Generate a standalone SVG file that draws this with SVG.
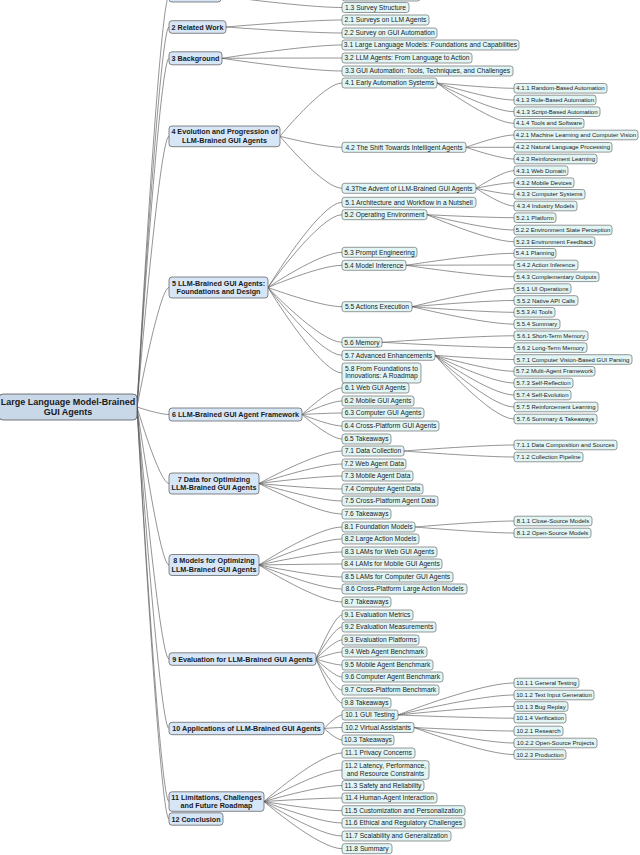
<svg xmlns="http://www.w3.org/2000/svg" width="640" height="855" viewBox="0 0 640 855">
<style>
.bg{fill:#ffffff}
.c path{fill:none;stroke:#5a5a5a;stroke-width:0.65}
.r{fill:#c9d8e8;stroke:#555;stroke-width:0.8}
.b1{fill:#d7e6f6;stroke:#555;stroke-width:0.7}
.b2{fill:#e2f5f5;stroke:#555;stroke-width:0.6}
.t0{font-family:"Liberation Sans",Arial,sans-serif;font-weight:bold;font-size:9px;fill:#1a1a1a;text-anchor:middle}
.t1{font-family:"Liberation Sans",Arial,sans-serif;font-weight:bold;font-size:7.2px;fill:#1a1a1a;text-anchor:middle}
.t2{font-family:"Liberation Sans",Arial,sans-serif;font-size:6.7px;fill:#1a1a1a;text-anchor:middle}
.t3{font-family:"Liberation Sans",Arial,sans-serif;font-size:6px;fill:#1a1a1a;text-anchor:middle}
</style>
<rect class="bg" x="0" y="0" width="640" height="855"/>
<g id="connectors" class="c">
<path d="M137 407 C137 407 159.4 -4 169 -4"/>
<path d="M137 407 C137 407 159.4 27 169 27"/>
<path d="M137 407 C137 407 159.4 58.3 169 58.3"/>
<path d="M137 407 C137 407 159.4 136.3 169 136.3"/>
<path d="M137 407 C137 407 159.4 287.5 169 287.5"/>
<path d="M137 407 C137 407 159.4 414.5 169 414.5"/>
<path d="M137 407 C137 407 159.4 483.5 169 483.5"/>
<path d="M137 407 C137 407 159.4 565 169 565"/>
<path d="M137 407 C137 407 159.4 659 169 659"/>
<path d="M137 407 C137 407 159.4 728.5 169 728.5"/>
<path d="M137 407 C137 407 159.4 801.5 169 801.5"/>
<path d="M137 407 C137 407 159.4 819 169 819"/>
<path d="M221 -4 C221 -4 305.7 -4 342 -4"/>
<path d="M221 -4 C221 -4 305.7 7.5 342 7.5"/>
<path d="M226 27 C226 27 307.2 20 342 20"/>
<path d="M226 27 C226 27 307.2 33 342 33"/>
<path d="M222 58.3 C222 58.3 306 45 342 45"/>
<path d="M222 58.3 C222 58.3 306 58 342 58"/>
<path d="M222 58.3 C222 58.3 306 71 342 71"/>
<path d="M280 136.3 C280 136.3 323.4 83 342 83"/>
<path d="M280 136.3 C280 136.3 323.4 147.3 342 147.3"/>
<path d="M280 136.3 C280 136.3 323.4 188.3 342 188.3"/>
<path d="M268 287.5 C268 287.5 319.8 202.3 342 202.3"/>
<path d="M268 287.5 C268 287.5 319.8 214.7 342 214.7"/>
<path d="M268 287.5 C268 287.5 319.8 252.3 342 252.3"/>
<path d="M268 287.5 C268 287.5 319.8 265.3 342 265.3"/>
<path d="M268 287.5 C268 287.5 319.8 306.7 342 306.7"/>
<path d="M268 287.5 C268 287.5 319.8 342.3 342 342.3"/>
<path d="M268 287.5 C268 287.5 319.8 355.3 342 355.3"/>
<path d="M268 287.5 C268 287.5 319.8 373 342 373"/>
<path d="M302 414.5 C302 414.5 330 388 342 388"/>
<path d="M302 414.5 C302 414.5 330 401 342 401"/>
<path d="M302 414.5 C302 414.5 330 413 342 413"/>
<path d="M302 414.5 C302 414.5 330 426 342 426"/>
<path d="M302 414.5 C302 414.5 330 439 342 439"/>
<path d="M259 483.5 C259 483.5 317.1 451 342 451"/>
<path d="M259 483.5 C259 483.5 317.1 464 342 464"/>
<path d="M259 483.5 C259 483.5 317.1 476 342 476"/>
<path d="M259 483.5 C259 483.5 317.1 489 342 489"/>
<path d="M259 483.5 C259 483.5 317.1 501 342 501"/>
<path d="M259 483.5 C259 483.5 317.1 514 342 514"/>
<path d="M259 565 C259 565 317.1 527 342 527"/>
<path d="M259 565 C259 565 317.1 539 342 539"/>
<path d="M259 565 C259 565 317.1 552 342 552"/>
<path d="M259 565 C259 565 317.1 564 342 564"/>
<path d="M259 565 C259 565 317.1 577 342 577"/>
<path d="M259 565 C259 565 317.1 589 342 589"/>
<path d="M259 565 C259 565 317.1 602 342 602"/>
<path d="M316 659 C316 659 334.2 615 342 615"/>
<path d="M316 659 C316 659 334.2 627 342 627"/>
<path d="M316 659 C316 659 334.2 640 342 640"/>
<path d="M316 659 C316 659 334.2 652 342 652"/>
<path d="M316 659 C316 659 334.2 665 342 665"/>
<path d="M316 659 C316 659 334.2 677 342 677"/>
<path d="M316 659 C316 659 334.2 690 342 690"/>
<path d="M316 659 C316 659 334.2 703 342 703"/>
<path d="M324 728.5 C324 728.5 336.6 715 342 715"/>
<path d="M324 728.5 C324 728.5 336.6 727.5 342 727.5"/>
<path d="M324 728.5 C324 728.5 336.6 740 342 740"/>
<path d="M264 801.5 C264 801.5 318.6 753 342 753"/>
<path d="M264 801.5 C264 801.5 318.6 770 342 770"/>
<path d="M264 801.5 C264 801.5 318.6 785.5 342 785.5"/>
<path d="M264 801.5 C264 801.5 318.6 798 342 798"/>
<path d="M264 801.5 C264 801.5 318.6 810.7 342 810.7"/>
<path d="M264 801.5 C264 801.5 318.6 823 342 823"/>
<path d="M264 801.5 C264 801.5 318.6 836 342 836"/>
<path d="M264 801.5 C264 801.5 318.6 848.7 342 848.7"/>
<path d="M437 83 C437 83 490.9 88.3 514 88.3"/>
<path d="M437 83 C437 83 490.9 100 514 100"/>
<path d="M437 83 C437 83 490.9 111.7 514 111.7"/>
<path d="M437 83 C437 83 490.9 123.3 514 123.3"/>
<path d="M466 147.3 C466 147.3 499.6 135 514 135"/>
<path d="M466 147.3 C466 147.3 499.6 147.3 514 147.3"/>
<path d="M466 147.3 C466 147.3 499.6 159 514 159"/>
<path d="M476 188.3 C476 188.3 502.6 170.7 514 170.7"/>
<path d="M476 188.3 C476 188.3 502.6 182.7 514 182.7"/>
<path d="M476 188.3 C476 188.3 502.6 194.3 514 194.3"/>
<path d="M476 188.3 C476 188.3 502.6 206 514 206"/>
<path d="M427 214.7 C427 214.7 487.9 217.7 514 217.7"/>
<path d="M427 214.7 C427 214.7 487.9 230 514 230"/>
<path d="M427 214.7 C427 214.7 487.9 241.7 514 241.7"/>
<path d="M406 265.3 C406 265.3 481.6 253.3 514 253.3"/>
<path d="M406 265.3 C406 265.3 481.6 265 514 265"/>
<path d="M406 265.3 C406 265.3 481.6 276.8 514 276.8"/>
<path d="M412 306.7 C412 306.7 483.4 288.6 514 288.6"/>
<path d="M412 306.7 C412 306.7 483.4 300.5 514 300.5"/>
<path d="M412 306.7 C412 306.7 483.4 312.3 514 312.3"/>
<path d="M412 306.7 C412 306.7 483.4 324.1 514 324.1"/>
<path d="M382 342.3 C382 342.3 474.4 335.8 514 335.8"/>
<path d="M382 342.3 C382 342.3 474.4 347.6 514 347.6"/>
<path d="M435 355.3 C435 355.3 490.3 359.5 514 359.5"/>
<path d="M435 355.3 C435 355.3 490.3 371.3 514 371.3"/>
<path d="M435 355.3 C435 355.3 490.3 383 514 383"/>
<path d="M435 355.3 C435 355.3 490.3 395 514 395"/>
<path d="M435 355.3 C435 355.3 490.3 407 514 407"/>
<path d="M435 355.3 C435 355.3 490.3 419 514 419"/>
<path d="M404 451 C404 451 481 445 514 445"/>
<path d="M404 451 C404 451 481 457 514 457"/>
<path d="M415 527 C415 527 484.3 521 514 521"/>
<path d="M415 527 C415 527 484.3 533 514 533"/>
<path d="M398 715 C398 715 479.2 683 514 683"/>
<path d="M398 715 C398 715 479.2 695 514 695"/>
<path d="M398 715 C398 715 479.2 706.5 514 706.5"/>
<path d="M398 715 C398 715 479.2 718.2 514 718.2"/>
<path d="M414 727.5 C414 727.5 484 731 514 731"/>
<path d="M414 727.5 C414 727.5 484 743 514 743"/>
<path d="M414 727.5 C414 727.5 484 754.5 514 754.5"/>
</g>
<g id="root"><rect class="r" x="-1" y="394" width="138" height="26" rx="4"/><text class="t0" x="68" y="405">Large Language Model-Brained</text><text class="t0" x="68" y="415">GUI Agents</text></g>
<g id="n1"><rect class="b1" x="169" y="-10" width="52" height="12" rx="3"/></g>
<g id="n2"><rect class="b1" x="169" y="20.7" width="57" height="12.6" rx="3"/><text class="t1" x="197.5" y="29.6">2 Related Work</text></g>
<g id="n3"><rect class="b1" x="169" y="51.8" width="53" height="13" rx="3"/><text class="t1" x="195.5" y="60.9">3 Background</text></g>
<g id="n4"><rect class="b1" x="169" y="126" width="111" height="20.7" rx="3"/><text class="t1" x="224.5" y="134.4">4 Evolution and Progression of</text><text class="t1" x="224.5" y="142.7">LLM-Brained GUI Agents</text></g>
<g id="n5"><rect class="b1" x="169" y="277" width="99" height="21" rx="3"/><text class="t1" x="218.5" y="285.6">5 LLM-Brained GUI Agents:</text><text class="t1" x="218.5" y="294">Foundations and Design</text></g>
<g id="n6"><rect class="b1" x="169" y="408" width="133" height="13" rx="3"/><text class="t1" x="235.5" y="417.1">6 LLM-Brained GUI Agent Framework</text></g>
<g id="n7"><rect class="b1" x="169" y="473" width="90" height="21" rx="3"/><text class="t1" x="214" y="481.6">7 Data for Optimizing</text><text class="t1" x="214" y="490">LLM-Brained GUI Agents</text></g>
<g id="n8"><rect class="b1" x="169" y="554.5" width="90" height="21" rx="3"/><text class="t1" x="214" y="563.1">8 Models for Optimizing</text><text class="t1" x="214" y="571.5">LLM-Brained GUI Agents</text></g>
<g id="n9"><rect class="b1" x="169" y="652.8" width="147" height="12.5" rx="3"/><text class="t1" x="242.5" y="661.6">9 Evaluation for LLM-Brained GUI Agents</text></g>
<g id="n10"><rect class="b1" x="169" y="722.3" width="155" height="12.4" rx="3"/><text class="t1" x="246.5" y="731.1">10 Applications of LLM-Brained GUI Agents</text></g>
<g id="n11"><rect class="b1" x="169" y="791.8" width="95" height="19.5" rx="3"/><text class="t1" x="216.5" y="799.6">11 Limitations, Challenges</text><text class="t1" x="216.5" y="808">and Future Roadmap</text></g>
<g id="n12"><rect class="b1" x="169" y="812.8" width="54" height="12.4" rx="3"/><text class="t1" x="196" y="821.6">12 Conclusion</text></g>
<g id="n1-2"><rect class="b2" x="342" y="-9" width="78" height="10" rx="2.5"/></g>
<g id="n1-3"><rect class="b2" x="342" y="2.5" width="67" height="10" rx="2.5"/><text class="t2" x="375.5" y="9.9">1.3 Survey Structure</text></g>
<g id="n2-1"><rect class="b2" x="342" y="15" width="87" height="10" rx="2.5"/><text class="t2" x="385.5" y="22.4">2.1 Surveys on LLM Agents</text></g>
<g id="n2-2"><rect class="b2" x="342" y="28" width="95" height="10" rx="2.5"/><text class="t2" x="389.5" y="35.4">2.2 Survey on GUI Automation</text></g>
<g id="n3-1"><rect class="b2" x="342" y="40" width="177" height="10" rx="2.5"/><text class="t2" x="430.5" y="47.4">3.1 Large Language Models: Foundations and Capabilities</text></g>
<g id="n3-2"><rect class="b2" x="342" y="53" width="130" height="10" rx="2.5"/><text class="t2" x="407" y="60.4">3.2 LLM Agents: From Language to Action</text></g>
<g id="n3-3"><rect class="b2" x="342" y="66" width="171" height="10" rx="2.5"/><text class="t2" x="427.5" y="73.4">3.3 GUI Automation: Tools, Techniques, and Challenges</text></g>
<g id="n4-1"><rect class="b2" x="342" y="78" width="95" height="10" rx="2.5"/><text class="t2" x="389.5" y="85.4">4.1 Early Automation Systems</text></g>
<g id="n4-2"><rect class="b2" x="342" y="142.3" width="124" height="10" rx="2.5"/><text class="t2" x="404" y="149.7">4.2 The Shift Towards Intelligent Agents</text></g>
<g id="n4-3"><rect class="b2" x="342" y="183.3" width="134" height="10" rx="2.5"/><text class="t2" x="409" y="190.7">4.3The Advent of LLM-Brained GUI Agents</text></g>
<g id="n5-1"><rect class="b2" x="342" y="197.3" width="134" height="10" rx="2.5"/><text class="t2" x="409" y="204.7">5.1 Architecture and Workflow in a Nutshell</text></g>
<g id="n5-2"><rect class="b2" x="342" y="209.7" width="85" height="10" rx="2.5"/><text class="t2" x="384.5" y="217.1">5.2 Operating Environment</text></g>
<g id="n5-3"><rect class="b2" x="342" y="247.3" width="75" height="10" rx="2.5"/><text class="t2" x="379.5" y="254.7">5.3 Prompt Engineering</text></g>
<g id="n5-4"><rect class="b2" x="342" y="260.3" width="64" height="10" rx="2.5"/><text class="t2" x="374" y="267.7">5.4 Model Inference</text></g>
<g id="n5-5"><rect class="b2" x="342" y="301.7" width="70" height="10" rx="2.5"/><text class="t2" x="377" y="309.1">5.5 Actions Execution</text></g>
<g id="n5-6"><rect class="b2" x="342" y="337.3" width="40" height="10" rx="2.5"/><text class="t2" x="362" y="344.7">5.6 Memory</text></g>
<g id="n5-7"><rect class="b2" x="342" y="350.3" width="93" height="10" rx="2.5"/><text class="t2" x="388.5" y="357.7">5.7 Advanced Enhancements</text></g>
<g id="n5-8"><rect class="b2" x="342" y="363" width="79" height="20" rx="2.5"/><text class="t2" x="381.5" y="370.7">5.8 From Foundations to</text><text class="t2" x="381.5" y="378.4">Innovations: A Roadmap</text></g>
<g id="n6-1"><rect class="b2" x="342" y="383" width="67" height="10" rx="2.5"/><text class="t2" x="375.5" y="390.4">6.1 Web GUI Agents</text></g>
<g id="n6-2"><rect class="b2" x="342" y="396" width="72" height="10" rx="2.5"/><text class="t2" x="378" y="403.4">6.2 Mobile GUI Agents</text></g>
<g id="n6-3"><rect class="b2" x="342" y="408" width="82" height="10" rx="2.5"/><text class="t2" x="383" y="415.4">6.3 Computer GUI Agents</text></g>
<g id="n6-4"><rect class="b2" x="342" y="421" width="97" height="10" rx="2.5"/><text class="t2" x="390.5" y="428.4">6.4 Cross-Platform GUI Agents</text></g>
<g id="n6-5"><rect class="b2" x="342" y="434" width="49" height="10" rx="2.5"/><text class="t2" x="366.5" y="441.4">6.5 Takeaways</text></g>
<g id="n7-1"><rect class="b2" x="342" y="446" width="62" height="10" rx="2.5"/><text class="t2" x="373" y="453.4">7.1 Data Collection</text></g>
<g id="n7-2"><rect class="b2" x="342" y="459" width="64" height="10" rx="2.5"/><text class="t2" x="374" y="466.4">7.2 Web Agent Data</text></g>
<g id="n7-3"><rect class="b2" x="342" y="471" width="71" height="10" rx="2.5"/><text class="t2" x="377.5" y="478.4">7.3 Mobile Agent Data</text></g>
<g id="n7-4"><rect class="b2" x="342" y="484" width="81" height="10" rx="2.5"/><text class="t2" x="382.5" y="491.4">7.4 Computer Agent Data</text></g>
<g id="n7-5"><rect class="b2" x="342" y="496" width="96" height="10" rx="2.5"/><text class="t2" x="390" y="503.4">7.5 Cross-Platform Agent Data</text></g>
<g id="n7-6"><rect class="b2" x="342" y="509" width="49" height="10" rx="2.5"/><text class="t2" x="366.5" y="516.4">7.6 Takeaways</text></g>
<g id="n8-1"><rect class="b2" x="342" y="522" width="73" height="10" rx="2.5"/><text class="t2" x="378.5" y="529.4">8.1 Foundation Models</text></g>
<g id="n8-2"><rect class="b2" x="342" y="534" width="77" height="10" rx="2.5"/><text class="t2" x="380.5" y="541.4">8.2 Large Action Models</text></g>
<g id="n8-3"><rect class="b2" x="342" y="547" width="95" height="10" rx="2.5"/><text class="t2" x="389.5" y="554.4">8.3 LAMs for Web GUI Agents</text></g>
<g id="n8-4"><rect class="b2" x="342" y="559" width="100" height="10" rx="2.5"/><text class="t2" x="392" y="566.4">8.4 LAMs for Mobile GUI Agents</text></g>
<g id="n8-5"><rect class="b2" x="342" y="572" width="111" height="10" rx="2.5"/><text class="t2" x="397.5" y="579.4">8.5 LAMs for Computer GUI Agents</text></g>
<g id="n8-6"><rect class="b2" x="342" y="584" width="125" height="10" rx="2.5"/><text class="t2" x="404.5" y="591.4">8.6 Cross-Platform Large Action Models</text></g>
<g id="n8-7"><rect class="b2" x="342" y="597" width="49" height="10" rx="2.5"/><text class="t2" x="366.5" y="604.4">8.7 Takeaways</text></g>
<g id="n9-1"><rect class="b2" x="342" y="610" width="71" height="10" rx="2.5"/><text class="t2" x="377.5" y="617.4">9.1 Evaluation Metrics</text></g>
<g id="n9-2"><rect class="b2" x="342" y="622" width="94" height="10" rx="2.5"/><text class="t2" x="389" y="629.4">9.2 Evaluation Measurements</text></g>
<g id="n9-3"><rect class="b2" x="342" y="635" width="77" height="10" rx="2.5"/><text class="t2" x="380.5" y="642.4">9.3 Evaluation Platforms</text></g>
<g id="n9-4"><rect class="b2" x="342" y="647" width="85" height="10" rx="2.5"/><text class="t2" x="384.5" y="654.4">9.4 Web Agent Benchmark</text></g>
<g id="n9-5"><rect class="b2" x="342" y="660" width="91" height="10" rx="2.5"/><text class="t2" x="387.5" y="667.4">9.5 Mobile Agent Benchmark</text></g>
<g id="n9-6"><rect class="b2" x="342" y="672" width="101" height="10" rx="2.5"/><text class="t2" x="392.5" y="679.4">9.6 Computer Agent Benchmark</text></g>
<g id="n9-7"><rect class="b2" x="342" y="685" width="97" height="10" rx="2.5"/><text class="t2" x="390.5" y="692.4">9.7 Cross-Platform Benchmark</text></g>
<g id="n9-8"><rect class="b2" x="342" y="698" width="49" height="10" rx="2.5"/><text class="t2" x="366.5" y="705.4">9.8 Takeaways</text></g>
<g id="n10-1"><rect class="b2" x="342" y="710" width="56" height="10" rx="2.5"/><text class="t2" x="370" y="717.4">10.1 GUI Testing</text></g>
<g id="n10-2"><rect class="b2" x="342" y="722.5" width="72" height="10" rx="2.5"/><text class="t2" x="378" y="729.9">10.2 Virtual Assistants</text></g>
<g id="n10-3"><rect class="b2" x="342" y="735" width="52" height="10" rx="2.5"/><text class="t2" x="368" y="742.4">10.3 Takeaways</text></g>
<g id="n11-1"><rect class="b2" x="342" y="748" width="73" height="10" rx="2.5"/><text class="t2" x="378.5" y="755.4">11.1 Privacy Concerns</text></g>
<g id="n11-2"><rect class="b2" x="342" y="760.7" width="87" height="18.6" rx="2.5"/><text class="t2" x="385.5" y="768">11.2 Latency, Performance,</text><text class="t2" x="385.5" y="775.7">and Resource Constraints</text></g>
<g id="n11-3"><rect class="b2" x="342" y="780.5" width="82" height="10" rx="2.5"/><text class="t2" x="383" y="787.9">11.3 Safety and Reliability</text></g>
<g id="n11-4"><rect class="b2" x="342" y="793" width="95" height="10" rx="2.5"/><text class="t2" x="389.5" y="800.4">11.4 Human-Agent Interaction</text></g>
<g id="n11-5"><rect class="b2" x="342" y="805.7" width="123" height="10" rx="2.5"/><text class="t2" x="403.5" y="813.1">11.5 Customization and Personalization</text></g>
<g id="n11-6"><rect class="b2" x="342" y="818" width="123" height="10" rx="2.5"/><text class="t2" x="403.5" y="825.4">11.6 Ethical and Regulatory Challenges</text></g>
<g id="n11-7"><rect class="b2" x="342" y="831" width="109" height="10" rx="2.5"/><text class="t2" x="396.5" y="838.4">11.7 Scalability and Generalization</text></g>
<g id="n11-8"><rect class="b2" x="342" y="843.7" width="50" height="10" rx="2.5"/><text class="t2" x="367" y="851.1">11.8 Summary</text></g>
<g id="n4-1-1"><rect class="b2" x="514" y="83.5" width="93" height="9.6" rx="2.5"/><text class="t3" x="560.5" y="90.4">4.1.1 Random-Based Automation</text></g>
<g id="n4-1-2"><rect class="b2" x="514" y="95.2" width="82" height="9.6" rx="2.5"/><text class="t3" x="555" y="102.1">4.1.3 Rule-Based Automation</text></g>
<g id="n4-1-3"><rect class="b2" x="514" y="106.9" width="86" height="9.6" rx="2.5"/><text class="t3" x="557" y="113.8">4.1.3 Script-Based Automation</text></g>
<g id="n4-1-4"><rect class="b2" x="514" y="118.5" width="70" height="9.6" rx="2.5"/><text class="t3" x="549" y="125.4">4.1.4 Tools and Software</text></g>
<g id="n4-2-1"><rect class="b2" x="514" y="130.2" width="124" height="9.6" rx="2.5"/><text class="t3" x="576" y="137.1">4.2.1 Machine Learning and Computer Vision</text></g>
<g id="n4-2-2"><rect class="b2" x="514" y="142.5" width="98" height="9.6" rx="2.5"/><text class="t3" x="563" y="149.4">4.2.2 Natural Language Processing</text></g>
<g id="n4-2-3"><rect class="b2" x="514" y="154.2" width="83" height="9.6" rx="2.5"/><text class="t3" x="555.5" y="161.1">4.2.3 Reinforcement Learning</text></g>
<g id="n4-3-1"><rect class="b2" x="514" y="165.9" width="54" height="9.6" rx="2.5"/><text class="t3" x="541" y="172.8">4.3.1 Web Domain</text></g>
<g id="n4-3-2"><rect class="b2" x="514" y="177.9" width="60" height="9.6" rx="2.5"/><text class="t3" x="544" y="184.8">4.3.2 Mobile Devices</text></g>
<g id="n4-3-3"><rect class="b2" x="514" y="189.5" width="71" height="9.6" rx="2.5"/><text class="t3" x="549.5" y="196.4">4.3.3 Computer Systems</text></g>
<g id="n4-3-4"><rect class="b2" x="514" y="201.2" width="63" height="9.6" rx="2.5"/><text class="t3" x="545.5" y="208.1">4.3.4 Industry Models</text></g>
<g id="n5-2-1"><rect class="b2" x="514" y="212.9" width="42" height="9.6" rx="2.5"/><text class="t3" x="535" y="219.8">5.2.1 Platform</text></g>
<g id="n5-2-2"><rect class="b2" x="514" y="225.2" width="98" height="9.6" rx="2.5"/><text class="t3" x="563" y="232.1">5.2.2 Environment State Perception</text></g>
<g id="n5-2-3"><rect class="b2" x="514" y="236.9" width="81" height="9.6" rx="2.5"/><text class="t3" x="554.5" y="243.8">5.2.3 Environment Feedback</text></g>
<g id="n5-4-1"><rect class="b2" x="514" y="248.5" width="42" height="9.6" rx="2.5"/><text class="t3" x="535" y="255.4">5.4.1 Planning</text></g>
<g id="n5-4-2"><rect class="b2" x="514" y="260.2" width="64" height="9.6" rx="2.5"/><text class="t3" x="546" y="267.1">5.4.2 Action Inference</text></g>
<g id="n5-4-3"><rect class="b2" x="514" y="272" width="85" height="9.6" rx="2.5"/><text class="t3" x="556.5" y="278.9">5.4.3 Complementary Outputs</text></g>
<g id="n5-5-1"><rect class="b2" x="514" y="283.8" width="57" height="9.6" rx="2.5"/><text class="t3" x="542.5" y="290.7">5.5.1 UI Operations</text></g>
<g id="n5-5-2"><rect class="b2" x="514" y="295.7" width="64" height="9.6" rx="2.5"/><text class="t3" x="546" y="302.6">5.5.2 Native API Calls</text></g>
<g id="n5-5-3"><rect class="b2" x="514" y="307.5" width="41" height="9.6" rx="2.5"/><text class="t3" x="534.5" y="314.4">5.5.3 AI Tools</text></g>
<g id="n5-5-4"><rect class="b2" x="514" y="319.3" width="46" height="9.6" rx="2.5"/><text class="t3" x="537" y="326.2">5.5.4 Summary</text></g>
<g id="n5-6-1"><rect class="b2" x="514" y="331" width="74" height="9.6" rx="2.5"/><text class="t3" x="551" y="337.9">5.6.1 Short-Term Memory</text></g>
<g id="n5-6-2"><rect class="b2" x="514" y="342.8" width="73" height="9.6" rx="2.5"/><text class="t3" x="550.5" y="349.7">5.6.2 Long-Term Memory</text></g>
<g id="n5-7-1"><rect class="b2" x="514" y="354.7" width="118" height="9.6" rx="2.5"/><text class="t3" x="573" y="361.6">5.7.1 Computer Vision-Based GUI Parsing</text></g>
<g id="n5-7-2"><rect class="b2" x="514" y="366.5" width="81" height="9.6" rx="2.5"/><text class="t3" x="554.5" y="373.4">5.7.2 Multi-Agent Framework</text></g>
<g id="n5-7-3"><rect class="b2" x="514" y="378.2" width="59" height="9.6" rx="2.5"/><text class="t3" x="543.5" y="385.1">5.7.3 Self-Reflection</text></g>
<g id="n5-7-4"><rect class="b2" x="514" y="390.2" width="57" height="9.6" rx="2.5"/><text class="t3" x="542.5" y="397.1">5.7.4 Self-Evolution</text></g>
<g id="n5-7-5"><rect class="b2" x="514" y="402.2" width="84" height="9.6" rx="2.5"/><text class="t3" x="556" y="409.1">5.7.5 Reinforcement Learning</text></g>
<g id="n5-7-6"><rect class="b2" x="514" y="414.2" width="83" height="9.6" rx="2.5"/><text class="t3" x="555.5" y="421.1">5.7.6 Summary &amp; Takeaways</text></g>
<g id="n7-1-1"><rect class="b2" x="514" y="440.2" width="103" height="9.6" rx="2.5"/><text class="t3" x="565.5" y="447.1">7.1.1 Data Composition and Sources</text></g>
<g id="n7-1-2"><rect class="b2" x="514" y="452.2" width="69" height="9.6" rx="2.5"/><text class="t3" x="548.5" y="459.1">7.1.2 Collection Pipeline</text></g>
<g id="n8-1-1"><rect class="b2" x="514" y="516.2" width="78" height="9.6" rx="2.5"/><text class="t3" x="553" y="523.1">8.1.1 Close-Source Models</text></g>
<g id="n8-1-2"><rect class="b2" x="514" y="528.2" width="77" height="9.6" rx="2.5"/><text class="t3" x="552.5" y="535.1">8.1.2 Open-Source Models</text></g>
<g id="n10-1-1"><rect class="b2" x="514" y="678.2" width="65" height="9.6" rx="2.5"/><text class="t3" x="546.5" y="685.1">10.1.1 General Testing</text></g>
<g id="n10-1-2"><rect class="b2" x="514" y="690.2" width="80" height="9.6" rx="2.5"/><text class="t3" x="554" y="697.1">10.1.2 Text Input Generation</text></g>
<g id="n10-1-3"><rect class="b2" x="514" y="701.7" width="54" height="9.6" rx="2.5"/><text class="t3" x="541" y="708.6">10.1.3 Bug Replay</text></g>
<g id="n10-1-4"><rect class="b2" x="514" y="713.4" width="52" height="9.6" rx="2.5"/><text class="t3" x="540" y="720.3">10.1.4 Verification</text></g>
<g id="n10-2-1"><rect class="b2" x="514" y="726.2" width="49" height="9.6" rx="2.5"/><text class="t3" x="538.5" y="733.1">10.2.1 Research</text></g>
<g id="n10-2-2"><rect class="b2" x="514" y="738.2" width="83" height="9.6" rx="2.5"/><text class="t3" x="555.5" y="745.1">10.2.2 Open-Source Projects</text></g>
<g id="n10-2-3"><rect class="b2" x="514" y="749.7" width="52" height="9.6" rx="2.5"/><text class="t3" x="540" y="756.6">10.2.3 Production</text></g>
</svg>
